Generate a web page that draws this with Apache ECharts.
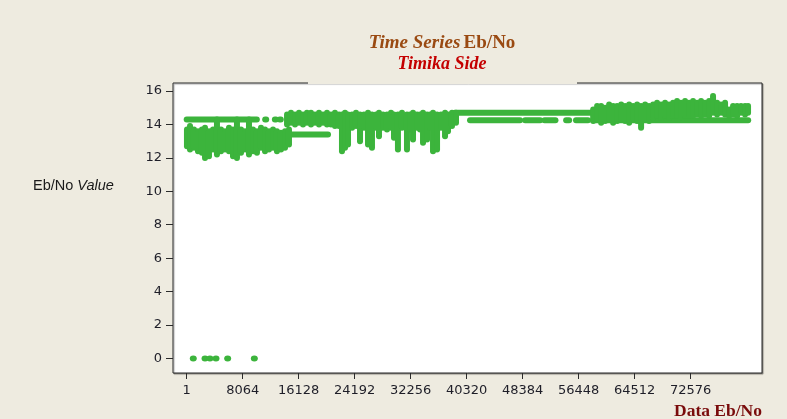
<!DOCTYPE html>
<html>
<head>
<meta charset="utf-8">
<title>Time Series Eb/No - Timika Side</title>
<script src="https://cdn.jsdelivr.net/npm/echarts@6/dist/echarts.min.js"></script>
<style>
  html, body { margin: 0; padding: 0; background: #EEEBE0; }
  #chart { width: 787px; height: 419px; }
</style>
</head>
<body>
<div id="chart"></div>
<script>
// Tick positions on the sample-index axis and on the Eb/No axis
const xTickValues = [1, 8064, 16128, 24192, 32256, 40320, 48384, 56448, 64512, 72576];
const yTickValues = [0, 2, 4, 6, 8, 10, 12, 14, 16];

// Dense stretches of readings: [sample index, lowest Eb/No, highest Eb/No]
const earlyBand = [
  [40, 12.7, 13.7], [480, 12.5, 13.9], [1050, 12.6, 13.7], [1630, 12.4, 13.6],
  [2200, 12.3, 13.7], [2640, 12.0, 13.8], [3210, 12.1, 13.6], [3790, 12.5, 13.7],
  [4360, 12.2, 14.3], [4940, 12.4, 13.7], [5520, 12.5, 13.6], [6090, 12.4, 13.8],
  [6670, 12.1, 13.7], [7240, 12.0, 14.3], [7820, 12.3, 13.7], [8400, 12.5, 13.6],
  [8970, 12.2, 14.3], [9550, 12.4, 13.7], [10120, 12.3, 13.6], [10700, 12.6, 13.8],
  [11280, 12.4, 13.7], [11850, 12.5, 13.6], [12430, 12.6, 13.7], [13000, 12.4, 13.6],
  [13580, 12.5, 13.5], [14160, 12.6, 13.6], [14730, 12.8, 13.7]
];
const midBand = [
  [14450, 14.0, 14.6], [15020, 14.1, 14.7], [15600, 14.0, 14.6], [16170, 14.1, 14.7],
  [16750, 14.0, 14.6], [17320, 14.1, 14.7], [17900, 14.0, 14.7], [18470, 14.1, 14.6],
  [19050, 14.0, 14.7], [19630, 14.1, 14.6], [20200, 14.0, 14.7], [20780, 14.0, 14.6],
  [21350, 13.9, 14.7], [21930, 13.9, 14.6], [22360, 12.4, 14.6], [22800, 12.6, 14.7],
  [23230, 12.8, 14.6], [23810, 13.8, 14.6], [24380, 13.9, 14.7], [24960, 13.0, 14.6],
  [25530, 13.8, 14.6], [26110, 12.8, 14.7], [26680, 12.6, 14.6], [27260, 13.8, 14.6],
  [27690, 13.3, 14.7], [28270, 13.8, 14.6], [28840, 13.7, 14.6], [29420, 13.8, 14.7],
  [29850, 13.2, 14.6], [30420, 12.5, 14.6], [31000, 13.8, 14.7], [31720, 12.5, 14.6],
  [32160, 13.7, 14.6], [32590, 13.1, 14.7], [33170, 13.8, 14.6], [33600, 13.7, 14.6],
  [34030, 12.9, 14.7], [34610, 13.1, 14.6], [35040, 13.8, 14.6], [35470, 12.4, 14.7],
  [36050, 12.5, 14.6], [36620, 13.8, 14.6], [37200, 13.3, 14.7], [37630, 13.6, 14.6],
  [38200, 13.9, 14.7], [38780, 14.1, 14.7]
];
const lateBand = [
  [58530, 14.2, 14.9], [59100, 14.3, 15.1], [59680, 14.1, 15.1], [60250, 14.2, 15.0],
  [60830, 14.3, 15.2], [61400, 14.1, 15.1], [61980, 14.2, 15.1], [62560, 14.3, 15.2],
  [63130, 14.2, 15.1], [63710, 14.1, 15.2], [64280, 14.3, 15.1], [64860, 14.2, 15.2],
  [65430, 13.8, 15.1], [66010, 14.3, 15.2], [66580, 14.2, 15.1], [67160, 14.4, 15.2],
  [67730, 14.5, 15.3], [68310, 14.4, 15.2], [68880, 14.5, 15.3], [69460, 14.4, 15.2],
  [70030, 14.5, 15.3], [70610, 14.5, 15.4], [71180, 14.4, 15.3], [71760, 14.5, 15.4],
  [72340, 14.5, 15.3], [72910, 14.5, 15.4], [73490, 14.6, 15.3], [74070, 14.5, 15.4],
  [74640, 14.6, 15.3], [75220, 14.5, 15.4], [75790, 14.7, 15.7], [76370, 14.6, 15.3],
  [76940, 14.7, 15.2], [77520, 14.6, 15.3], [78100, 14.5, 14.9], [78670, 14.6, 15.1],
  [79250, 14.5, 15.1], [79820, 14.7, 15.1], [80400, 14.6, 15.1], [80830, 14.7, 15.1]
];

// Runs of readings holding one level: [first sample, last sample, Eb/No]
const steadyRuns = [
  [1, 10100, 14.3], [11300, 11300, 14.3], [12700, 12700, 14.3], [13400, 13400, 14.3],
  [14900, 20350, 13.4],
  [38600, 58500, 14.7],
  [40800, 48000, 14.25], [48730, 50900, 14.25], [51520, 53100, 14.25],
  [54640, 55070, 14.25], [56060, 57790, 14.25], [58530, 80850, 14.25]
];

// Dropouts where the link read zero
const dropoutSamples = [950, 2640, 3350, 4220, 5900, 9740];
const dropoutValue = 0;

const GREEN = '#3CB43C';
const TICK_FONT = 'DejaVu Sans';

// Each band entry becomes a vertical stroke, each run a horizontal stroke
const bandStrokes = [].concat(earlyBand, midBand, lateBand)
  .map(([x, lo, hi]) => [x, lo, x, hi]);
const runStrokes = steadyRuns
  .map(([x0, x1, y]) => [x0, y, x1 === x0 ? x1 + 150 : x1, y]);
const dropoutPoints = dropoutSamples.map(x => [x, dropoutValue]);

function renderStroke(params, api) {
  const p0 = api.coord([api.value(0), api.value(1)]);
  const p1 = api.coord([api.value(2), api.value(3)]);
  return {
    type: 'line',
    shape: { x1: p0[0], y1: p0[1], x2: p1[0], y2: p1[1] },
    style: { stroke: GREEN, lineWidth: 6, lineCap: 'round' }
  };
}

const chart = echarts.init(document.getElementById('chart'), null, { renderer: 'canvas' });

chart.setOption({
  backgroundColor: '#EEEBE0',
  animation: false,
  grid: {
    left: 173, right: 25, top: 83, bottom: 46,
    show: true,
    backgroundColor: '#FFFFFF',
    borderColor: '#2B2B2B',
    borderWidth: 1,
    shadowColor: 'rgba(0,0,0,0.35)',
    shadowOffsetX: 1,
    shadowOffsetY: 1,
    shadowBlur: 1
  },
  xAxis: {
    type: 'value',
    min: -1970,
    max: 82840,
    axisLine: { show: false, onZero: false },
    splitLine: { show: false },
    axisTick: {
      show: true, length: 6, inside: false,
      customValues: xTickValues,
      lineStyle: { color: '#2B2B2B', width: 1 }
    },
    axisLabel: {
      customValues: xTickValues,
      margin: 11,
      color: '#1E1E28',
      fontFamily: TICK_FONT,
      fontSize: 13,
      formatter: v => String(v)
    }
  },
  yAxis: {
    type: 'value',
    min: -0.87,
    max: 16.48,
    axisLine: { show: false, onZero: false },
    splitLine: { show: false },
    axisTick: {
      show: true, length: 7, inside: false,
      customValues: yTickValues,
      lineStyle: { color: '#2B2B2B', width: 1 }
    },
    axisLabel: {
      customValues: yTickValues,
      margin: 11,
      color: '#1E1E28',
      fontFamily: TICK_FONT,
      fontSize: 13,
      formatter: v => String(v)
    }
  },
  series: [
    {
      type: 'custom',
      name: 'steady',
      renderItem: renderStroke,
      encode: { x: [0, 2], y: [1, 3] },
      data: runStrokes,
      z: 3
    },
    {
      type: 'custom',
      name: 'bands',
      renderItem: renderStroke,
      encode: { x: [0, 2], y: [1, 3] },
      data: bandStrokes,
      z: 4
    },
    {
      type: 'scatter',
      name: 'dropouts',
      symbol: 'circle',
      symbolSize: [7, 6],
      itemStyle: { color: GREEN, opacity: 1 },
      data: dropoutPoints,
      z: 5
    }
  ],
  graphic: [
    {
      type: 'rect',
      z: 100,
      silent: true,
      shape: { x: 308, y: 0, width: 269, height: 84 },
      style: { fill: '#EEEBE0' }
    },
    {
      type: 'text',
      z: 101,
      x: 442,
      y: 43,
      style: {
        text: '{it|Time Series} {rm|Eb/No}',
        align: 'center',
        verticalAlign: 'middle',
        rich: {
          it: { fontFamily: 'Liberation Serif', fontStyle: 'italic', fontWeight: 'bold', fontSize: 19, fill: '#9A4A12' },
          rm: { fontFamily: 'Liberation Serif', fontWeight: 'bold', fontSize: 19, fill: '#9A4A12' }
        }
      }
    },
    {
      type: 'text',
      z: 101,
      x: 442,
      y: 64,
      style: {
        text: 'Timika Side',
        align: 'center',
        verticalAlign: 'middle',
        fontFamily: 'Liberation Serif',
        fontStyle: 'italic',
        fontWeight: 'bold',
        fontSize: 18,
        fill: '#C40000'
      }
    },
    {
      type: 'text',
      z: 101,
      x: 33,
      y: 186,
      style: {
        text: '{rm|Eb/No }{it|Value}',
        align: 'left',
        verticalAlign: 'middle',
        rich: {
          rm: { fontFamily: 'Liberation Sans', fontSize: 14.5, fill: '#1A1A1A' },
          it: { fontFamily: 'Liberation Sans', fontStyle: 'italic', fontSize: 14.5, fill: '#1A1A1A' }
        }
      }
    },
    {
      type: 'text',
      z: 101,
      x: 762,
      y: 411,
      style: {
        text: 'Data Eb/No',
        align: 'right',
        verticalAlign: 'middle',
        fontFamily: 'Liberation Serif',
        fontWeight: 'bold',
        fontSize: 17.5,
        fill: '#7A0C0C'
      }
    }
  ]
});
</script>
</body>
</html>
